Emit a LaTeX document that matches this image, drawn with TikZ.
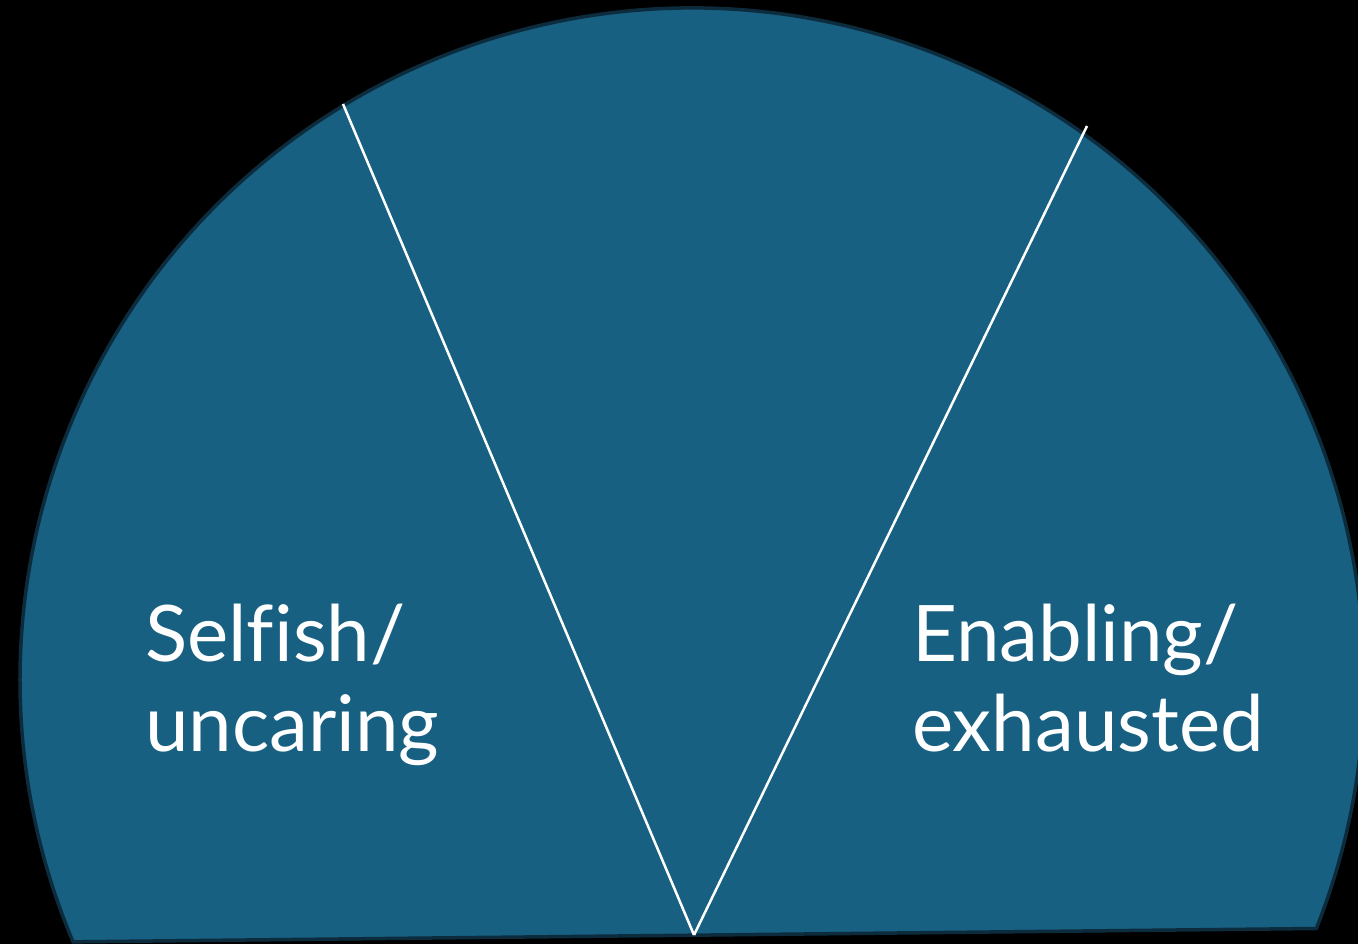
\documentclass[tikz,border=0pt]{standalone}
\usepackage{fontspec}
\setmainfont{Lato}[Ligatures=CommonOff]
\definecolor{gaugeblue}{HTML}{176082}
\definecolor{gaugeedge}{HTML}{0C2C3D}
\begin{document}
\begin{tikzpicture}[x=1pt,y=1pt,
  gauge/.style={fill=gaugeblue,draw=gaugeedge,line width=3.5pt},
  divider/.style={draw=white,line width=2.5pt},
  label/.style={text=white,align=left,inner sep=0pt,font=\fontsize{78}{90}\selectfont}]
\fill[black] (0,0) rectangle (1358,944);
\useasboundingbox (0,0) rectangle (1358,944);
\clip (0,0) rectangle (1358,944);
\draw[gauge] (1316.3,15.5) arc[start angle=-21.7,end angle=202.93,radius=672] -- cycle;
\coordinate (apex) at (694,9);
\coordinate (lefttop) at (343,840);
\coordinate (righttop) at (1087,818);
\draw[divider] (apex) -- (lefttop);
\draw[divider] (apex) -- (righttop);
\node[label,anchor=base west] (selfish) at (145,192) {Selfish/\\uncaring};
\node[label,anchor=base west] (enabling) at (912,192) {Enabling/\\exhausted};
\end{tikzpicture}
\end{document}
